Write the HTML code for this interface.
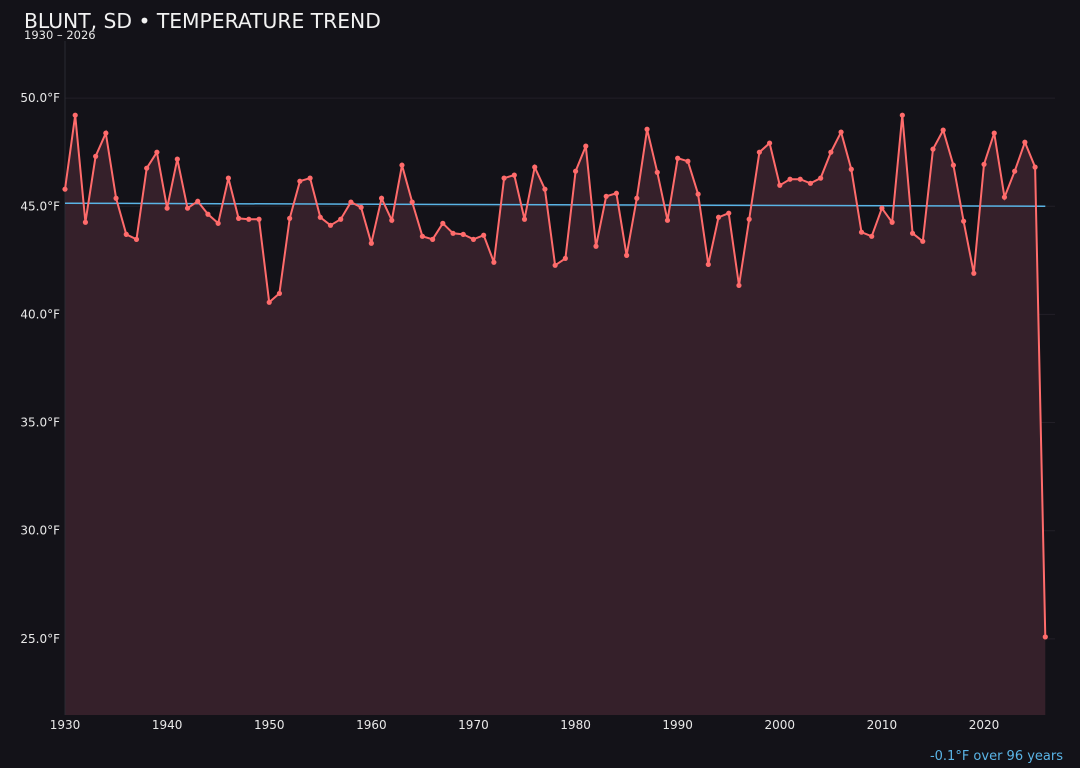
<!DOCTYPE html>
<html><head><meta charset="utf-8"><style>
body{margin:0;background:#131218;width:1080px;height:768px;overflow:hidden;font-family:"DejaVu Sans","Liberation Sans",sans-serif}
svg{display:block}
</style></head><body>
<svg width="1080" height="768">
<text x="24" y="28" fill="#f2f2f2" font-size="20.3">BLUNT, SD • TEMPERATURE TREND</text>
<text x="24" y="39" fill="#e8e8e8" font-size="11.5">1930 – 2026</text>
<g id="grid"></g><g id="yticks"></g><g id="xticks"></g>
<path id="area" fill="#35202a"/>
<line id="axis-left" stroke="#2a2a32"/>
<line id="trend" stroke="#5ab4e6" stroke-width="1.5"/>
<path id="line" fill="none" stroke="#ff6b6b" stroke-width="2"/>
<g id="pts"></g>
<text x="1063" y="760" text-anchor="end" fill="#5ab4e6" font-size="13">-0.1°F over 96 years</text>
</svg>
<script>
const years=[];for(let y=1930;y<=2026;y++)years.push(y);
const temps=[45.79,49.21,44.26,47.31,48.38,45.37,43.70,43.47,46.76,47.50,44.91,47.18,44.91,45.23,44.63,44.21,46.30,44.44,44.40,44.40,40.56,40.97,44.44,46.16,46.30,44.49,44.12,44.40,45.19,44.95,43.29,45.37,44.35,46.90,45.19,43.61,43.47,44.21,43.75,43.70,43.47,43.66,42.41,46.30,46.44,44.40,46.81,45.79,42.27,42.59,46.62,47.78,43.15,45.46,45.60,42.73,45.37,48.56,46.57,44.35,47.22,47.08,45.56,42.31,44.49,44.68,41.34,44.40,47.50,47.92,45.97,46.25,46.25,46.06,46.30,47.50,48.43,46.71,43.80,43.61,44.91,44.26,49.21,43.75,43.38,47.64,48.52,46.90,44.31,41.90,46.94,48.38,45.42,46.62,47.96,46.81,25.09];
const trendStart=45.14, trendEnd=45.0;
const yTicks=[25,30,35,40,45,50];
const xTicks=[1930,1940,1950,1960,1970,1980,1990,2000,2010,2020];
const L=65,R=1055,T=41,B=715,x0=1930,x1=2026.95,yMin=21.48,yMax=52.64;
const sx=v=>L+(v-x0)/(x1-x0)*(R-L);
const sy=v=>B-(v-yMin)/(yMax-yMin)*(B-T);
const NS="http://www.w3.org/2000/svg";
function mk(t,a,p){const e=document.createElementNS(NS,t);for(const k in a)e.setAttribute(k,a[k]);p.appendChild(e);return e;}
const grid=document.getElementById('grid'),yt=document.getElementById('yticks'),xt=document.getElementById('xticks');
yTicks.forEach(v=>{
 const g=mk('line',{x1:L,x2:R,y1:sy(v),y2:sy(v),stroke:'#221f27'},grid);
 
 
 const t=mk('text',{x:L-5,y:sy(v)+4,'text-anchor':'end',fill:'#e8e8e8','font-size':12},yt);
 t.textContent=v.toFixed(1)+'°F';
 
 
});
xTicks.forEach(v=>{
 const t=mk('text',{x:sx(v),y:729,'text-anchor':'middle',fill:'#e8e8e8','font-size':12},xt);
 t.textContent=v;
 
 
});
const al=document.getElementById('axis-left');al.setAttribute('x1',L);al.setAttribute('x2',L);al.setAttribute('y1',T);al.setAttribute('y2',B);
let d='';years.forEach((y,i)=>{d+=(i?'L':'M')+sx(y).toFixed(1)+','+sy(temps[i]).toFixed(1);});
document.getElementById('line').setAttribute('d',d);
document.getElementById('area').setAttribute('d',d+'L'+sx(years[years.length-1])+','+B+'L'+sx(years[0])+','+B+'Z');
const tr=document.getElementById('trend');
tr.setAttribute('x1',sx(years[0]));tr.setAttribute('x2',sx(years[years.length-1]));
tr.setAttribute('y1',sy(trendStart));tr.setAttribute('y2',sy(trendEnd));
const pts=document.getElementById('pts');
years.forEach((y,i)=>{
 const c=mk('circle',{cx:sx(y),cy:sy(temps[i]),r:2.6,fill:'#ff6b6b'},pts);
 
 
});
</script>
</body></html>
